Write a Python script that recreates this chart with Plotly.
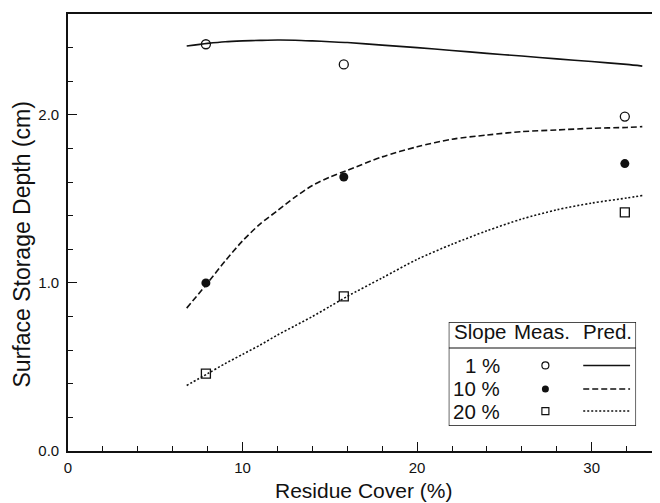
import plotly.graph_objects as go

# ---- data ----
slope_labels = ["1 %", "10 %", "20 %"]

meas_x = [7.9, 15.8, 31.9]
meas_1 = [2.42, 2.30, 1.99]
meas_10 = [1.00, 1.63, 1.71]
meas_20 = [0.46, 0.92, 1.42]

pred_x = [6.8, 8, 9, 10, 11, 12, 13, 14, 15, 16, 18, 20, 22, 24, 26, 28, 30, 32, 32.9]
pred_1 = [2.41, 2.425, 2.435, 2.44, 2.443, 2.445, 2.444, 2.44, 2.435, 2.43,
          2.415, 2.40, 2.383, 2.366, 2.35, 2.333, 2.317, 2.30, 2.29]
pred_10 = [0.85, 1.00, 1.13, 1.25, 1.35, 1.43, 1.51, 1.58, 1.63, 1.67,
           1.75, 1.81, 1.855, 1.88, 1.90, 1.91, 1.92, 1.925, 1.93]
pred_20 = [0.39, 0.46, 0.52, 0.575, 0.63, 0.69, 0.745, 0.80, 0.86, 0.92,
           1.03, 1.14, 1.23, 1.31, 1.38, 1.435, 1.475, 1.505, 1.52]

x_ticks = [0, 10, 20, 30]
y_ticks = [0.0, 1.0, 2.0]

FONT = "Liberation Sans, Arial, sans-serif"
BLACK = "#111111"

fig = go.Figure()

marker_styles = [
    dict(symbol="circle-open", size=9, color=BLACK, line=dict(width=1.3, color=BLACK)),
    dict(symbol="circle", size=9, color=BLACK),
    dict(symbol="square-open", size=9, color=BLACK, line=dict(width=1.3, color=BLACK)),
]
line_styles = [
    dict(color=BLACK, width=1.6, dash="solid"),
    dict(color=BLACK, width=1.6, dash="6px,3px"),
    dict(color=BLACK, width=1.6, dash="2px,2px"),
]

for ys, ls in zip([pred_1, pred_10, pred_20], line_styles):
    fig.add_trace(go.Scatter(x=pred_x, y=ys, mode="lines", line=dict(**ls, shape="spline", smoothing=0.8),
                             showlegend=False, hoverinfo="skip"))

for ys, ms in zip([meas_1, meas_10, meas_20], marker_styles):
    fig.add_trace(go.Scatter(x=meas_x, y=ys, mode="markers", marker=ms,
                             showlegend=False))

# ---- custom table legend on an overlay axis (0..1 units) ----
leg_rows_v = [0.582, 0.356, 0.144]
leg_marker_u = 0.516
leg_line_u = [0.718, 0.968]
leg_marker_styles = [
    dict(symbol="circle-open", size=7, color=BLACK, line=dict(width=1.2, color=BLACK)),
    dict(symbol="circle", size=7, color=BLACK),
    dict(symbol="square-open", size=7, color=BLACK, line=dict(width=1.2, color=BLACK)),
]
for v, ms, ls in zip(leg_rows_v, leg_marker_styles, line_styles):
    fig.add_trace(go.Scatter(x=[leg_marker_u], y=[v], mode="markers", marker=ms,
                             xaxis="x2", yaxis="y2", showlegend=False, hoverinfo="skip"))
    fig.add_trace(go.Scatter(x=leg_line_u, y=[v, v], mode="lines",
                             line=dict(color=BLACK, width=1.4, dash=ls["dash"]),
                             xaxis="x2", yaxis="y2", showlegend=False, hoverinfo="skip"))

annotations = []
header_v = 0.905
for txt, u in [("Slope", 0.165), ("Meas.", 0.497), ("Pred.", 0.846)]:
    annotations.append(dict(text=txt, x=u, y=header_v, xref="x2", yref="y2",
                            showarrow=False, xanchor="center", yanchor="middle",
                            font=dict(family=FONT, size=20.5, color=BLACK)))
for txt, v in zip(slope_labels, leg_rows_v):
    annotations.append(dict(text=txt, x=0.282, y=v, xref="x2", yref="y2",
                            showarrow=False, xanchor="right", yanchor="middle",
                            font=dict(family=FONT, size=20.5, color=BLACK)))

# axis titles
annotations.append(dict(text="Residue Cover (%)", x=0.5, y=0, xref="paper", yref="paper",
                        yshift=-39, showarrow=False, xanchor="center", yanchor="middle",
                        font=dict(family=FONT, size=21, color=BLACK)))
annotations.append(dict(text="Surface Storage Depth (cm)", x=0, y=0.5, xref="paper", yref="paper",
                        xshift=-47, yshift=-12, textangle=-90, showarrow=False,
                        xanchor="center", yanchor="middle",
                        font=dict(family=FONT, size=23, color=BLACK)))

shapes = [
    dict(type="rect", xref="x2", yref="y2", x0=0, x1=1, y0=0, y1=1,
         line=dict(color=BLACK, width=1.3), fillcolor="white", layer="below"),
    dict(type="line", xref="x2", yref="y2", x0=0, x1=1, y0=0.75, y1=0.75,
         line=dict(color=BLACK, width=1.1)),
]

fig.update_layout(
    width=652, height=495,
    margin=dict(l=60, r=0, t=6, b=52),
    paper_bgcolor="white", plot_bgcolor="white",
    font=dict(family=FONT, size=15, color=BLACK),
    showlegend=False,
    annotations=annotations,
    shapes=shapes,
    xaxis=dict(range=[0, 33.8], tickvals=x_ticks, ticktext=[str(v) for v in x_ticks],
               ticks="inside", ticklen=9, tickwidth=1.2, tickcolor=BLACK,
               showline=True, linecolor=BLACK, linewidth=2, mirror=True,
               showgrid=False, zeroline=False, ticklabelstandoff=2,
               minor=dict(ticks="inside", dtick=2, ticklen=5, tickwidth=1, tickcolor=BLACK),
               tickfont=dict(family=FONT, size=15, color=BLACK)),
    yaxis=dict(range=[0, 2.6], tickvals=y_ticks, ticktext=[f"{v:.1f}" for v in y_ticks],
               ticks="inside", ticklen=9, tickwidth=1.2, tickcolor=BLACK,
               showline=True, linecolor=BLACK, linewidth=1.6, mirror=True,
               showgrid=False, zeroline=False, ticklabelstandoff=4,
               minor=dict(ticks="inside", dtick=0.2, ticklen=5, tickwidth=1, tickcolor=BLACK),
               tickfont=dict(family=FONT, size=15, color=BLACK)),
    xaxis2=dict(domain=[0.6453, 0.9628], range=[0, 1], anchor="y2", visible=False,
                fixedrange=True),
    yaxis2=dict(domain=[0.0572, 0.2952], range=[0, 1], anchor="x2", visible=False,
                fixedrange=True),
)

fig.write_html("out.html")
